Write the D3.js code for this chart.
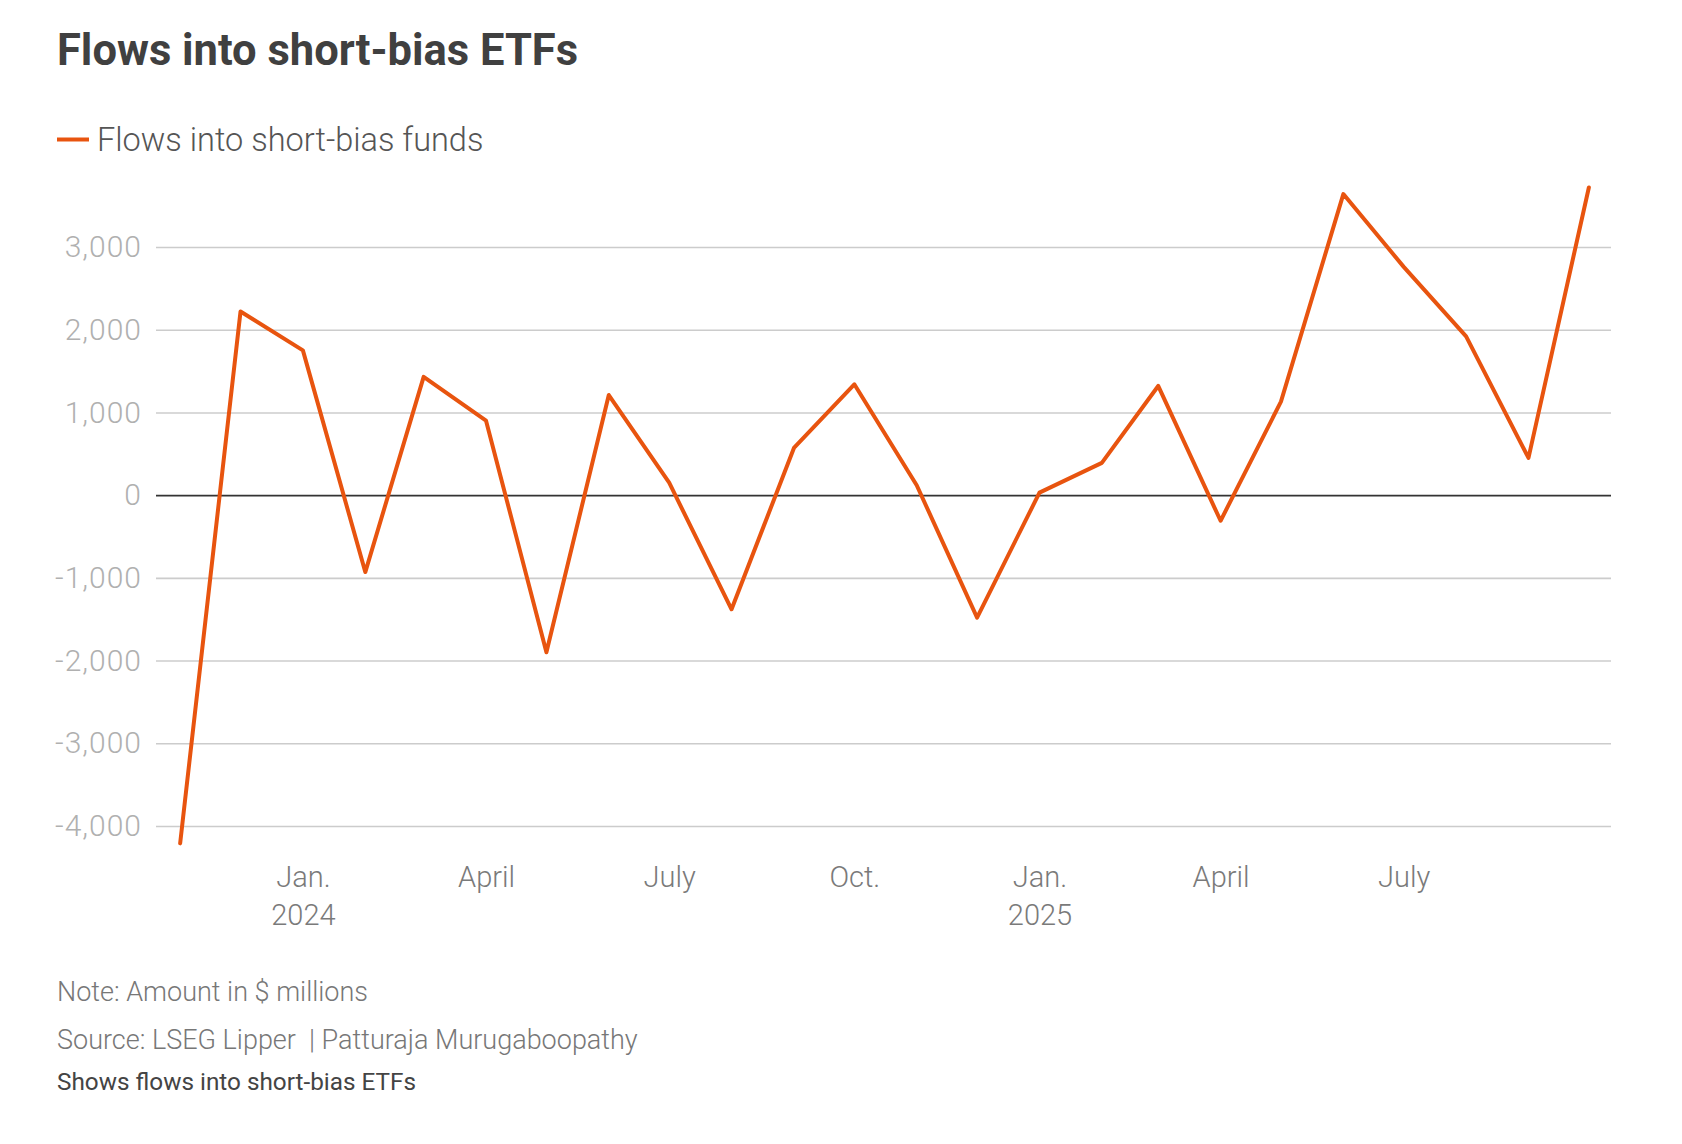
<!DOCTYPE html>
<html>
<head>
<meta charset="utf-8">
<script src="https://cdn.jsdelivr.net/npm/d3@7"></script>
<style>
  html, body { margin: 0; padding: 0; background: #fff; }
  svg { display: block; }
  text { font-family: Roboto, "Noto Sans", sans-serif; }
</style>
</head>
<body>
<div id="chart"></div>
<script>
// ---- Data ----
const months = ["2023-11","2023-12","2024-01","2024-02","2024-03","2024-04","2024-05","2024-06",
                "2024-07","2024-08","2024-09","2024-10","2024-11","2024-12","2025-01","2025-02",
                "2025-03","2025-04","2025-05","2025-06","2025-07","2025-08","2025-09","2025-10"];
const flows = [-4210, 2220, 1750, -930, 1430, 900, -1900, 1210,
               150, -1380, 570, 1340, 120, -1480, 30, 390,
               1320, -310, 1130, 3640, 2760, 1920, 450, 3720];
const yTicks = [-4000, -3000, -2000, -1000, 0, 1000, 2000, 3000];
const xTickDates = ["2024-01","2024-04","2024-07","2024-10","2025-01","2025-04","2025-07"];
const xTickLabels = [["Jan.","2024"],["April"],["July"],["Oct."],["Jan.","2025"],["April"],["July"]];
const seriesName = "Flows into short-bias funds";
const title = "Flows into short-bias ETFs";
const noteText = "Note: Amount in $ millions";
const sourceText = "Source: LSEG Lipper  | Patturaja Murugaboopathy";
const descText = "Shows flows into short-bias ETFs";

const W = 1682, H = 1144;
const parse = d3.timeParse("%Y-%m");
const data = months.map((m, i) => ({ date: parse(m), value: flows[i] }));

const svg = d3.select("#chart").append("svg").attr("width", W).attr("height", H);

const plot = { left: 156, right: 1611, top: 247, bottom: 826 };

const x = d3.scaleTime()
  .domain([d3.timeDay.offset(data[0].date, -12), d3.timeDay.offset(data[data.length - 1].date, 11)])
  .range([plot.left, plot.right]);
const y = d3.scaleLinear().domain([-4000, 3000]).range([plot.bottom, plot.top]);

// Title
svg.append("text").attr("x", 57).attr("y", 65)
  .attr("font-size", 43.5).attr("font-weight", 700).attr("fill", "#404040")
  .text(title);

// Legend
svg.append("line").attr("x1", 57).attr("x2", 89).attr("y1", 139.5).attr("y2", 139.5)
  .attr("stroke", "#e8540f").attr("stroke-width", 4);
svg.append("text").attr("x", 97).attr("y", 151)
  .attr("font-size", 32.5).attr("font-weight", 300).attr("fill", "#555")
  .text(seriesName);

// Y gridlines + labels
const fmt = d3.format(",");
const yAxis = d3.axisLeft(y).tickValues(yTicks)
  .tickSize(-(plot.right - plot.left))
  .tickFormat(d => fmt(d).replace("\u2212", "-"))
  .tickPadding(14);
const gy = svg.append("g").attr("transform", `translate(${plot.left},0)`).call(yAxis);
gy.select(".domain").remove();
gy.selectAll(".tick line")
  .attr("stroke", d => d === 0 ? "#333" : "#cccccc")
  .attr("stroke-width", 1.6);
gy.selectAll(".tick text")
  .attr("font-family", "Lato, Roboto, sans-serif")
  .attr("font-weight", 300)
  .attr("letter-spacing", 1)
  .attr("font-size", 30).attr("fill", "#b0b0b0");
gy.selectAll(".tick").filter(d => d === 0).raise();

// X axis labels
const xAxis = d3.axisBottom(x).tickValues(xTickDates.map(parse)).tickSize(0).tickFormat("");
const gx = svg.append("g").attr("transform", `translate(0,${plot.bottom})`).call(xAxis);
gx.select(".domain").remove();
gx.selectAll(".tick").each(function(d, i) {
  const t = d3.select(this).append("text")
    .attr("text-anchor", "middle").attr("fill", "#7a7a7a")
    .attr("font-size", 29).attr("font-weight", 300);
  xTickLabels[i].forEach((s, j) => {
    t.append("tspan").attr("x", 0).attr("y", 61 + j * 38).text(s);
  });
});

// Line
const line = d3.line().x(d => x(d.date)).y(d => y(d.value));
svg.append("path").datum(data)
  .attr("d", line).attr("fill", "none")
  .attr("stroke", "#e8540f").attr("stroke-width", 4)
  .attr("stroke-linejoin", "round").attr("stroke-linecap", "round");

// Footer
svg.append("text").attr("x", 57).attr("y", 1001)
  .attr("font-size", 27).attr("font-weight", 300).attr("fill", "#777").text(noteText);
svg.append("text").attr("x", 57).attr("y", 1049)
  .attr("font-size", 27).attr("font-weight", 300).attr("fill", "#777")
  .style("white-space", "pre").attr("xml:space", "preserve").text(sourceText);
svg.append("text").attr("x", 57).attr("y", 1090)
  .attr("font-size", 24.3).attr("font-weight", 400).attr("fill", "#444").text(descText);
</script>
</body>
</html>
